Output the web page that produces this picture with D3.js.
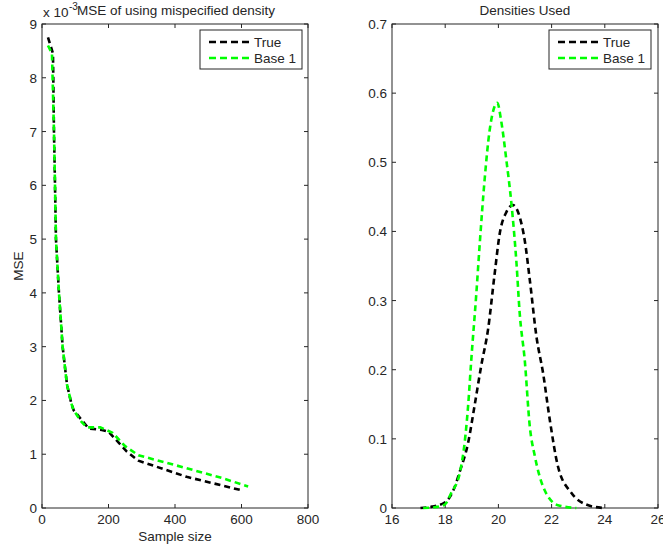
<!DOCTYPE html>
<html>
<head>
<meta charset="utf-8">
<script src="https://cdn.jsdelivr.net/npm/d3@7"></script>
<style>
  body { margin: 0; background: #fff; }
  svg { font-family: "Liberation Sans", Arial, sans-serif; }
  text { fill: #262626; }
</style>
</head>
<body>
<svg id="chart" width="663" height="548"></svg>
<script>
// left panel: MSE vs sample size (values in units of 1e-3)
var mseTrueN  = [18, 33, 36, 39, 42, 51, 62, 75, 88, 95, 140, 180, 200, 255, 290, 435, 600];
var mseTrue   = [8.75, 8.45, 7.0, 6.05, 5.0, 4.0, 3.0, 2.3, 1.95, 1.82, 1.48, 1.45, 1.42, 1.05, 0.88, 0.58, 0.33];
var mseBaseN  = [18, 30, 36, 39, 42, 51, 62, 75, 88, 95, 119, 135, 175, 212, 250, 290, 435, 540, 620];
var mseBase   = [8.6, 8.45, 7.0, 6.05, 5.0, 4.0, 3.0, 2.3, 1.95, 1.82, 1.6, 1.5, 1.5, 1.4, 1.15, 0.98, 0.74, 0.56, 0.4];

// right panel: densities
var densTrueX = [17.07, 17.5, 17.98, 18.3, 18.55, 18.86, 19.1, 19.36, 19.61, 19.86, 20.05, 20.3, 20.55, 20.8, 20.99, 21.18, 21.43, 21.68, 21.93, 22.24, 22.74, 23.3, 23.93];
var densTrue  = [0, 0.002, 0.008, 0.025, 0.053, 0.094, 0.147, 0.207, 0.258, 0.339, 0.397, 0.428, 0.438, 0.421, 0.387, 0.33, 0.248, 0.195, 0.128, 0.06, 0.022, 0.005, 0];
var densBaseX = [17.17, 17.6, 17.98, 18.23, 18.55, 18.73, 18.86, 18.98, 19.17, 19.3, 19.48, 19.67, 19.96, 20.1, 20.3, 20.49, 20.68, 20.8, 20.99, 21.18, 21.37, 21.68, 22.24, 22.93];
var densBase  = [0, 0.001, 0.005, 0.022, 0.051, 0.094, 0.147, 0.214, 0.31, 0.383, 0.474, 0.546, 0.586, 0.561, 0.503, 0.44, 0.354, 0.282, 0.214, 0.118, 0.075, 0.031, 0.004, 0];

var seriesNames = ["True", "Base 1"];
var seriesColors = ["#000000", "#00ff00"];

var leftTicksX = [0, 200, 400, 600, 800];
var leftTicksY = [0, 1, 2, 3, 4, 5, 6, 7, 8, 9];
var rightTicksX = [16, 18, 20, 22, 24, 26];
var rightTicksY = [0, 0.1, 0.2, 0.3, 0.4, 0.5, 0.6, 0.7];

var fs = 13.5;
var svg = d3.select("#chart");

function panel(opts) {
  var x = d3.scaleLinear().domain(opts.xDomain).range([opts.x0, opts.x1]);
  var y = d3.scaleLinear().domain(opts.yDomain).range([opts.y1, opts.y0]);
  var g = svg.append("g");

  // box
  g.append("rect")
    .attr("x", opts.x0).attr("y", opts.y0)
    .attr("width", opts.x1 - opts.x0).attr("height", opts.y1 - opts.y0)
    .attr("fill", "none").attr("stroke", "#262626").attr("stroke-width", 1);

  // ticks inside on all four sides
  var tl = 4;
  opts.xTicks.forEach(function(t) {
    var px = x(t);
    g.append("line").attr("x1", px).attr("x2", px).attr("y1", opts.y1).attr("y2", opts.y1 - tl).attr("stroke", "#262626");
    g.append("line").attr("x1", px).attr("x2", px).attr("y1", opts.y0).attr("y2", opts.y0 + tl).attr("stroke", "#262626");
    g.append("text").attr("x", px).attr("y", opts.y1 + 16)
      .attr("text-anchor", "middle").attr("font-size", fs).text(opts.xFmt(t));
  });
  opts.yTicks.forEach(function(t) {
    var py = y(t);
    g.append("line").attr("x1", opts.x0).attr("x2", opts.x0 + tl).attr("y1", py).attr("y2", py).attr("stroke", "#262626");
    g.append("line").attr("x1", opts.x1).attr("x2", opts.x1 - tl).attr("y1", py).attr("y2", py).attr("stroke", "#262626");
    g.append("text").attr("x", opts.x0 - 5).attr("y", py + 5)
      .attr("text-anchor", "end").attr("font-size", fs).text(opts.yFmt(t));
  });

  var line = d3.line()
    .x(function(d) { return x(d[0]); })
    .y(function(d) { return y(d[1]); })
    .curve(opts.curve);

  opts.series.forEach(function(s, i) {
    var pts = s.xs.map(function(v, j) { return [v, s.ys[j]]; });
    g.append("path").datum(pts)
      .attr("d", line)
      .attr("fill", "none")
      .attr("stroke", seriesColors[i])
      .attr("stroke-width", 2.6)
      .attr("stroke-dasharray", "6,4");
  });

  // legend
  var lg = g.append("g").attr("transform", "translate(" + opts.legX + "," + opts.y0 + ")");
  lg.append("rect").attr("x", 0).attr("y", 6).attr("width", 102).attr("height", 39)
    .attr("fill", "#fff").attr("stroke", "#262626").attr("stroke-width", 1);
  seriesNames.forEach(function(n, i) {
    var ly = 18 + i * 16;
    lg.append("line").attr("x1", 9).attr("x2", 50).attr("y1", ly).attr("y2", ly)
      .attr("stroke", seriesColors[i]).attr("stroke-width", 2.6).attr("stroke-dasharray", "7,4");
    lg.append("text").attr("x", 54).attr("y", ly + 5).attr("font-size", fs).text(n);
  });

  // title
  g.append("text").attr("x", (opts.x0 + opts.x1) / 2 + (opts.titleDx || 0)).attr("y", 15)
    .attr("text-anchor", "middle").attr("font-size", fs).text(opts.title);

  return { x: x, y: y, g: g };
}

var left = panel({
  x0: 42, x1: 308, y0: 24, y1: 508,
  xDomain: [0, 800], yDomain: [0, 9],
  xTicks: leftTicksX, yTicks: leftTicksY,
  xFmt: d3.format("d"), yFmt: d3.format("d"),
  curve: d3.curveLinear,
  series: [{ xs: mseTrueN, ys: mseTrue }, { xs: mseBaseN, ys: mseBase }],
  legX: 200, title: "MSE of using mispecified density", titleDx: 1
});

// x 10^-3 exponent label (partly hidden under the title, as in the original)
left.g.insert("text", ":first-child").attr("x", 43).attr("y", 17).attr("font-size", fs).text("x 10");
left.g.insert("text", ":first-child").attr("x", 69).attr("y", 10).attr("font-size", 10).text("-3");

left.g.append("text").attr("x", 175).attr("y", 541).attr("text-anchor", "middle")
  .attr("font-size", fs).text("Sample size");
left.g.append("text").attr("transform", "translate(23,266) rotate(-90)")
  .attr("text-anchor", "middle").attr("font-size", fs).text("MSE");

panel({
  x0: 392, x1: 658, y0: 24, y1: 508,
  xDomain: [16, 26], yDomain: [0, 0.7],
  xTicks: rightTicksX, yTicks: rightTicksY,
  xFmt: d3.format("d"), yFmt: function(t) { return t === 0 ? "0" : d3.format(".1f")(t); },
  curve: d3.curveMonotoneX,
  series: [{ xs: densTrueX, ys: densTrue }, { xs: densBaseX, ys: densBase }],
  legX: 549, title: "Densities Used"
});
</script>
</body>
</html>
